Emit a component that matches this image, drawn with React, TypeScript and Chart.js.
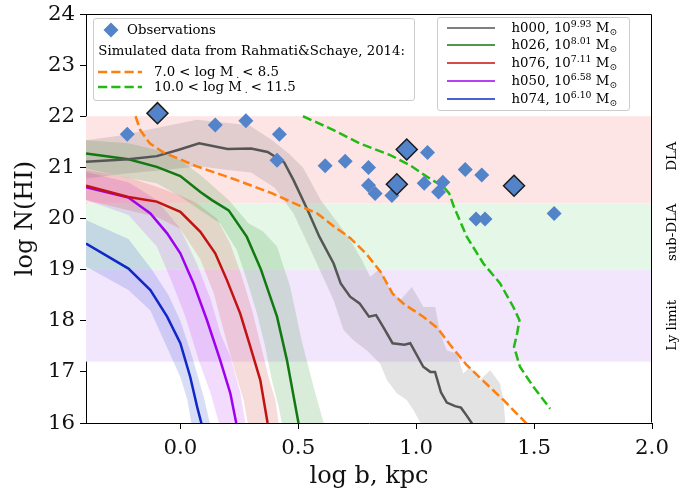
import React, { useEffect, useRef } from 'react';
import { Chart, registerables } from 'chart.js';

Chart.register(...registerables);

type P = [number, number];

const xTicks = [0.0, 0.5, 1.0, 1.5, 2.0];
const yTicks = [16, 17, 18, 19, 20, 21, 22, 23, 24];
const xMin = -0.4;
const xMax = 2.0;
const yMin = 16;
const yMax = 24;

// Observations
const obsX = [-0.225, 0.148, 0.278, 0.42, 0.41, 0.614, 0.699, 0.798, 0.798, 0.826, 0.897, 1.048, 1.034, 1.113, 1.095, 1.208, 1.278, 1.254, 1.292, 1.585];
const obsY = [21.65, 21.83, 21.91, 21.65, 21.14, 21.03, 21.12, 21.0, 20.65, 20.49, 20.45, 21.29, 20.69, 20.71, 20.52, 20.96, 20.85, 19.99, 19.99, 20.1];
const obsBigX = [-0.097, 0.918, 0.96, 1.415];
const obsBigY = [22.06, 20.67, 21.35, 20.64];

// Simulated median profiles
const h000Line: P[] = [[-0.4, 21.11], [-0.22, 21.16], [-0.1, 21.22], [-0.01, 21.34], [0.08, 21.47], [0.2, 21.36], [0.3, 21.37], [0.37, 21.3], [0.44, 21.1], [0.48, 20.75], [0.54, 20.16], [0.59, 19.64], [0.65, 19.12], [0.68, 18.73], [0.72, 18.47], [0.76, 18.34], [0.8, 18.08], [0.83, 18.11], [0.86, 17.88], [0.9, 17.56], [0.95, 17.53], [0.975, 17.56], [1.03, 17.1], [1.06, 17.0], [1.08, 17.0], [1.105, 16.6], [1.13, 16.4], [1.165, 16.33], [1.19, 16.3], [1.215, 16.14], [1.25, 15.9]];
const h026Line: P[] = [[-0.4, 21.27], [-0.22, 21.16], [-0.1, 21.01], [0.0, 20.83], [0.085, 20.52], [0.134, 20.36], [0.205, 20.16], [0.282, 19.64], [0.342, 19.0], [0.41, 18.08], [0.452, 17.23], [0.501, 16.0], [0.51, 15.8]];
const h076Line: P[] = [[-0.4, 20.64], [-0.22, 20.42], [-0.1, 20.33], [0.0, 20.13], [0.085, 19.74], [0.148, 19.32], [0.198, 18.79], [0.254, 18.14], [0.297, 17.49], [0.339, 16.84], [0.37, 16.0], [0.38, 15.8]];
const h050Line: P[] = [[-0.4, 20.61], [-0.22, 20.41], [-0.127, 20.1], [-0.056, 19.71], [0.0, 19.32], [0.056, 18.73], [0.113, 18.01], [0.169, 17.23], [0.212, 16.58], [0.237, 16.0], [0.245, 15.8]];
const h074Line: P[] = [[-0.4, 19.51], [-0.22, 19.02], [-0.127, 18.6], [-0.056, 18.08], [0.0, 17.56], [0.042, 16.9], [0.071, 16.32], [0.089, 16.0], [0.095, 15.8]];

// Scatter envelopes (upper / lower edges)
const h000Upper: P[] = [[-0.4, 21.53], [-0.26, 21.62], [-0.07, 21.8], [0.07, 21.93], [0.22, 21.86], [0.29, 21.83], [0.39, 21.53], [0.46, 21.27], [0.52, 21.0], [0.55, 20.75], [0.595, 20.36], [0.68, 19.84], [0.72, 19.58], [0.77, 19.19], [0.805, 18.86], [0.847, 19.02], [0.883, 18.66], [0.932, 18.4], [0.982, 18.66], [1.031, 18.27], [1.081, 18.27], [1.102, 17.75], [1.13, 17.42], [1.172, 17.36], [1.2, 16.97], [1.229, 17.1], [1.271, 16.84], [1.314, 17.03], [1.356, 16.77], [1.37, 16.45], [1.38, 15.9]];
const h000Lower: P[] = [[-0.4, 20.78], [-0.23, 20.88], [-0.07, 20.95], [0.08, 21.02], [0.2, 20.95], [0.3, 20.9], [0.4, 20.6], [0.48, 20.1], [0.572, 19.19], [0.65, 18.4], [0.692, 17.82], [0.734, 17.62], [0.791, 17.42], [0.847, 17.16], [0.876, 16.84], [0.918, 16.58], [0.96, 16.45], [0.989, 16.25], [1.03, 15.9]];
const h026Upper: P[] = [[-0.4, 21.53], [-0.22, 21.47], [-0.1, 21.34], [0.0, 21.14], [0.085, 20.85], [0.205, 20.36], [0.29, 19.9], [0.35, 19.75], [0.41, 19.45], [0.466, 18.66], [0.515, 17.6], [0.565, 16.71], [0.614, 15.9]];
const h026Lower: P[] = [[-0.4, 20.98], [-0.22, 20.79], [-0.1, 20.69], [0.0, 20.43], [0.085, 20.16], [0.169, 19.9], [0.24, 19.38], [0.282, 18.79], [0.325, 18.14], [0.36, 17.49], [0.388, 16.84], [0.417, 16.32], [0.435, 15.9]];
const h076Upper: P[] = [[-0.4, 20.95], [-0.22, 20.8], [-0.1, 20.62], [0.0, 20.45], [0.07, 20.3], [0.155, 20.0], [0.212, 19.5], [0.261, 18.86], [0.304, 18.21], [0.339, 17.56], [0.374, 16.9], [0.403, 16.45], [0.42, 15.9]];
const h076Lower: P[] = [[-0.4, 20.36], [-0.22, 20.16], [-0.1, 20.03], [0.0, 19.8], [0.085, 19.2], [0.141, 18.55], [0.184, 17.8], [0.226, 17.1], [0.268, 16.45], [0.29, 15.9]];
const h050Upper: P[] = [[-0.4, 20.91], [-0.22, 20.71], [-0.1, 20.36], [0.0, 19.8], [0.07, 19.12], [0.13, 18.4], [0.17, 17.75], [0.212, 17.3], [0.254, 16.6], [0.28, 15.9]];
const h050Lower: P[] = [[-0.4, 20.36], [-0.22, 20.07], [-0.1, 19.45], [-0.04, 18.8], [0.02, 18.1], [0.08, 17.2], [0.127, 16.6], [0.17, 15.9]];
const h074Upper: P[] = [[-0.4, 19.97], [-0.22, 19.6], [-0.12, 19.0], [-0.05, 18.5], [0.0, 18.0], [0.05, 17.3], [0.1, 16.5], [0.13, 15.9]];
const h074Lower: P[] = [[-0.4, 19.06], [-0.22, 18.6], [-0.127, 18.2], [-0.07, 17.62], [0.0, 16.9], [0.03, 16.45], [0.05, 15.9]];

// Rahmati & Schaye 2014
const rsLowMass: P[] = [[-0.19, 22.0], [-0.17, 21.73], [-0.13, 21.47], [-0.07, 21.29], [0.07, 21.02], [0.24, 20.75], [0.39, 20.49], [0.52, 20.22], [0.58, 20.1], [0.65, 19.85], [0.72, 19.62], [0.79, 19.3], [0.85, 18.95], [0.9, 18.53], [0.95, 18.32], [1.03, 18.08], [1.09, 17.86], [1.144, 17.53], [1.215, 17.13], [1.29, 16.8], [1.37, 16.45], [1.47, 15.98]];
const rsHighMass: P[] = [[0.52, 22.0], [0.65, 21.73], [0.76, 21.47], [0.89, 21.24], [0.975, 21.04], [1.045, 20.82], [1.116, 20.62], [1.14, 20.49], [1.16, 20.23], [1.215, 19.64], [1.285, 19.12], [1.356, 18.73], [1.412, 18.27], [1.438, 18.01], [1.428, 17.75], [1.415, 17.49], [1.44, 17.1], [1.497, 16.71], [1.568, 16.28]];

// Absorber regimes
const regionEdges = [22.0, 20.3, 19.0, 17.2];
const regionNames = ['DLA', 'sub-DLA', 'Ly limit'];
const regionLabelY = [21.22, 19.73, 17.91];

const haloNames = ['h000', 'h026', 'h076', 'h050', 'h074'];
const haloMassExp = ['9.93', '8.01', '7.11', '6.58', '6.10'];

const haloColors = ['#555555', '#127812', '#c21212', '#a000f0', '#1028c8'];
const haloBandColors = ['rgba(90,90,90,0.17)', 'rgba(20,130,20,0.16)', 'rgba(200,20,20,0.15)', 'rgba(170,0,240,0.14)', 'rgba(30,60,210,0.17)'];
const regionColors = ['#fde5e5', '#e5f8e7', '#f2e6fd'];
const obsColor = '#5383c9';
const orangeC = '#ff7f0e';
const greenC = '#22bb14';
const FONT = '"DejaVu Serif", serif';

const pts = (a: P[]) => a.map(([x, y]) => ({ x, y }));
const poly = (up: P[], lo: P[]) => pts([...up, ...lo.slice().reverse()]);

const decorPlugin = {
  id: 'decor',
  beforeDatasetsDraw(chart: any) {
    const { ctx, chartArea: a, scales } = chart;
    const y = scales.y;
    ctx.save();
    for (let i = 0; i < regionNames.length; i++) {
      const t = y.getPixelForValue(regionEdges[i]);
      const b = y.getPixelForValue(regionEdges[i + 1]);
      ctx.fillStyle = regionColors[i];
      ctx.fillRect(a.left, t, a.right - a.left, b - t);
    }
    ctx.restore();
  },
  afterDraw(chart: any) {
    const { ctx, chartArea: a, scales } = chart;
    const y = scales.y;
    ctx.save();
    ctx.strokeStyle = '#000';
    ctx.lineWidth = 1;
    const L = Math.round(a.left) + 0.5;
    const R = Math.round(a.right) - 0.5;
    const T = Math.round(a.top) + 0.5;
    const B = Math.round(a.bottom) - 0.5;
    ctx.beginPath();
    ctx.moveTo(L, T);
    ctx.lineTo(R, T);
    ctx.lineTo(R, B);
    ctx.stroke();
    ctx.fillStyle = '#000';
    ctx.font = '13.3px ' + FONT;
    ctx.textAlign = 'center';
    ctx.textBaseline = 'middle';
    for (let i = 0; i < regionNames.length; i++) {
      ctx.save();
      ctx.translate(a.right + 21, y.getPixelForValue(regionLabelY[i]));
      ctx.rotate(-Math.PI / 2);
      ctx.fillText(regionNames[i], 0, 0);
      ctx.restore();
    }
    ctx.restore();
  },
};

const legendText: React.CSSProperties = {
  position: 'absolute',
  whiteSpace: 'nowrap',
  lineHeight: '16px',
  height: 16,
  fontFamily: FONT,
  fontSize: '13.3px',
  color: '#000',
};

const subDot: React.CSSProperties = { fontSize: '9.3px', position: 'relative', top: 2, margin: '0 3px 0 3px' };

function LeftLegend() {
  const bx = 93, by = 18;
  return (
    <div style={{ position: 'absolute', left: bx, top: by, width: 322, height: 83, boxSizing: 'border-box', background: 'rgba(255,255,255,0.8)', border: '1px solid #cccccc', borderRadius: 3 }}>
      <svg style={{ position: 'absolute', left: 110 - bx - 8, top: 29.3 - by - 8 }} width={16} height={16}>
        <polygon points="8,0.5 15.5,8 8,15.5 0.5,8" fill={obsColor} />
      </svg>
      <div style={{ ...legendText, left: 126 - bx, top: 29.3 - by - 8 }}>Observations</div>
      <div style={{ ...legendText, left: 97.3 - bx, top: 50 - by - 8 }}>Simulated data from Rahmati&amp;Schaye, 2014:</div>
      <svg style={{ position: 'absolute', left: 97 - bx, top: 71 - by - 3 }} width={44} height={6}>
        <line x1={0} y1={3} x2={44} y2={3} stroke={orangeC} strokeWidth={2.5} strokeDasharray="9.25 4" />
      </svg>
      <div style={{ ...legendText, left: 153 - bx, top: 71 - by - 8 }}>7.0 &lt; log M<span style={subDot}>.</span>&lt; 8.5</div>
      <svg style={{ position: 'absolute', left: 97 - bx, top: 86 - by - 3 }} width={44} height={6}>
        <line x1={0} y1={3} x2={44} y2={3} stroke={greenC} strokeWidth={2.5} strokeDasharray="9.25 4" />
      </svg>
      <div style={{ ...legendText, left: 153 - bx, top: 86 - by - 8 }}>10.0 &lt; log M<span style={subDot}>.</span>&lt; 11.5</div>
    </div>
  );
}

function RightLegend() {
  const bx = 437, by = 17;
  return (
    <div style={{ position: 'absolute', left: bx, top: by, width: 193, height: 94, boxSizing: 'border-box', background: 'rgba(255,255,255,0.8)', border: '1px solid #cccccc', borderRadius: 3 }}>
      {haloNames.map((n, i) => {
        const cy = 26.6 + 17.75 * i;
        return (
          <React.Fragment key={n}>
            <svg style={{ position: 'absolute', left: 446 - bx, top: cy - by - 3 }} width={48} height={6}>
              <line x1={0} y1={3} x2={48} y2={3} stroke={haloColors[i]} strokeWidth={1.6} />
            </svg>
            <div style={{ ...legendText, left: 510.5 - bx, top: cy - by - 8 }}>
              {n}, 10<span style={{ fontSize: '9.3px', position: 'relative', top: -5 }}>{haloMassExp[i]}</span> M<span style={{ fontSize: '9.3px', position: 'relative', top: 3 }}>⊙</span>
            </div>
          </React.Fragment>
        );
      })}
    </div>
  );
}

export default function App() {
  const ref = useRef<HTMLCanvasElement | null>(null);

  useEffect(() => {
    if (!ref.current) return;
    const lineUps = [h000Upper, h026Upper, h076Upper, h050Upper, h074Upper];
    const lineLows = [h000Lower, h026Lower, h076Lower, h050Lower, h074Lower];
    const lines = [h000Line, h026Line, h076Line, h050Line, h074Line];

    const datasets: any[] = [];
    lines.forEach((_, i) => {
      datasets.push({
        label: haloNames[i] + ' band',
        data: poly(lineUps[i], lineLows[i]),
        showLine: true,
        fill: 'shape',
        backgroundColor: haloBandColors[i],
        borderColor: 'transparent',
        borderWidth: 0,
        pointRadius: 0,
        pointHoverRadius: 0,
        tension: 0,
        clip: 0,
        order: 100 + i,
      });
    });
    lines.forEach((l, i) => {
      datasets.push({
        label: haloNames[i],
        data: pts(l),
        showLine: true,
        fill: false,
        borderColor: haloColors[i],
        backgroundColor: haloColors[i],
        borderWidth: 2.5,
        pointRadius: 0,
        pointHoverRadius: 0,
        tension: 0,
        clip: 0,
        order: 50,
      });
    });
    datasets.push({
      label: '7.0 < log M < 8.5',
      data: pts(rsLowMass),
      showLine: true,
      fill: false,
      borderColor: orangeC,
      borderWidth: 2.5,
      borderDash: [9.25, 4],
      pointRadius: 0,
      tension: 0,
      clip: 0,
      order: 40,
    });
    datasets.push({
      label: '10.0 < log M < 11.5',
      data: pts(rsHighMass),
      showLine: true,
      fill: false,
      borderColor: greenC,
      borderWidth: 2.5,
      borderDash: [9.25, 4],
      pointRadius: 0,
      tension: 0,
      clip: 0,
      order: 40,
    });
    datasets.push({
      label: 'Observations',
      data: obsX.map((x, i) => ({ x, y: obsY[i] })),
      showLine: false,
      pointStyle: 'rectRot',
      pointRadius: 7.5,
      pointHoverRadius: 7.5,
      backgroundColor: obsColor,
      borderColor: obsColor,
      borderWidth: 0,
      order: 10,
    });
    datasets.push({
      label: 'Observations (highlighted)',
      data: obsBigX.map((x, i) => ({ x, y: obsBigY[i] })),
      showLine: false,
      pointStyle: 'rectRot',
      pointRadius: 10.5,
      pointHoverRadius: 10.5,
      backgroundColor: obsColor,
      borderColor: '#1a1a1a',
      borderWidth: 1.5,
      order: 5,
    });

    const tickFont = { family: FONT, size: 21.3 };
    const titleFont = { family: FONT, size: 24 };

    const chart = new Chart(ref.current, {
      type: 'scatter',
      data: { datasets },
      options: {
        animation: false,
        responsive: true,
        maintainAspectRatio: false,
        devicePixelRatio: 1,
        events: [],
        layout: { padding: { top: 14, right: 39, bottom: 0, left: 0 } },
        plugins: { legend: { display: false }, tooltip: { enabled: false } },
        scales: {
          x: {
            type: 'linear',
            min: xMin,
            max: xMax,
            afterBuildTicks: (s: any) => { s.ticks = xTicks.map((v) => ({ value: v })); },
            afterFit: (s: any) => { s.height = 67; s.paddingLeft = 0; s.paddingRight = 0; },
            ticks: { font: tickFont, color: '#111', padding: 7, maxRotation: 0, autoSkip: false, callback: (v: any) => Number(v).toFixed(1) },
            grid: { display: true, drawOnChartArea: false, drawTicks: true, tickLength: 6, tickColor: '#000', tickWidth: 1 },
            border: { display: true, color: '#000', width: 1 },
            title: { display: true, text: 'log b, kpc', font: titleFont, color: '#111', padding: { top: 0, bottom: -1 } },
          },
          y: {
            type: 'linear',
            min: yMin,
            max: yMax,
            afterBuildTicks: (s: any) => { s.ticks = yTicks.map((v) => ({ value: v })); },
            afterFit: (s: any) => { s.width = 86; s.paddingTop = 0; s.paddingBottom = 0; },
            ticks: { font: tickFont, color: '#111', padding: 5, autoSkip: false, callback: (v: any) => String(v) },
            grid: { display: true, drawOnChartArea: false, drawTicks: true, tickLength: 6, tickColor: '#000', tickWidth: 1 },
            border: { display: true, color: '#000', width: 1 },
            title: { display: true, text: 'log N(HI)', font: titleFont, color: '#111', padding: { top: 11.5, bottom: 0 } },
          },
        },
      } as any,
      plugins: [decorPlugin],
    });
    return () => chart.destroy();
  }, []);

  return (
    <div style={{ position: 'fixed', left: 0, top: 0, width: 691, height: 490, background: '#fff' }}>
      <canvas ref={ref} />
      <LeftLegend />
      <RightLegend />
    </div>
  );
}
